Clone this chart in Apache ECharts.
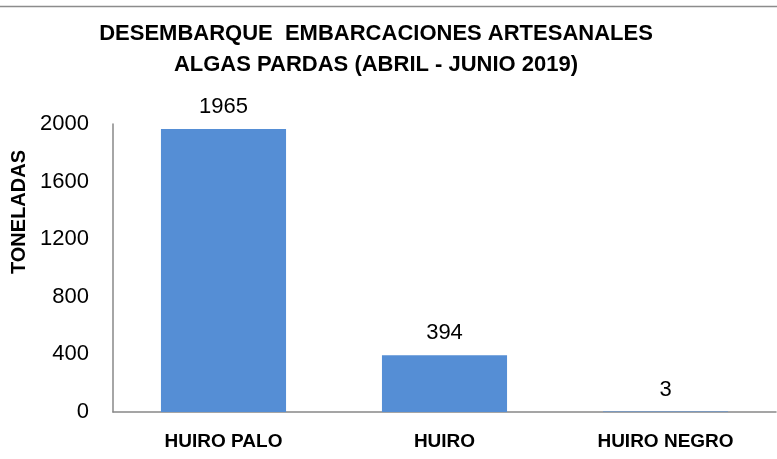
<!DOCTYPE html>
<html>
<head>
<meta charset="UTF-8">
<title>Desembarque algas pardas</title>
<script type="text/javascript" src="https://cdn.jsdelivr.net/npm/echarts@6/dist/echarts.min.js"></script>
<style>
	html, body { margin: 0; padding: 0; background: #fff; }
</style>
</head>
<body>
	<div id="main" style="width: 777px;height:459px;"></div>
</body>
<script type="text/javascript">
	// datos del grafico
	var categorias = ['HUIRO PALO', 'HUIRO', 'HUIRO NEGRO'];
	var toneladas = [1965, 394, 3];
	var titulo = 'DESEMBARQUE  EMBARCACIONES ARTESANALES\nALGAS PARDAS (ABRIL - JUNIO 2019)';
	var nombreEjeY = 'TONELADAS';

	var fuente = '"Liberation Sans", Arial, sans-serif';

	var myChart = echarts.init(document.getElementById('main'));

	var option = {
		backgroundColor : '#fff',
		animation : false,
		title : {
			text : titulo,
			left : 371,
			textAlign : 'center',
			top : 13,
			textStyle : {
				fontFamily : fuente,
				fontWeight : 'bold',
				fontSize : 22,
				lineHeight : 31,
				color : '#000'
			}
		},
		graphic : [{
			type : 'line',
			shape : { x1 : 0, y1 : 6.5, x2 : 777, y2 : 6.5 },
			style : { stroke : '#8c8c8c', lineWidth : 1.5 }
		}],
		grid : {
			left : 113,
			right : 1,
			top : 124,
			bottom : 47,
			containLabel : false,
			outerBoundsMode : 'none'
		},
		xAxis : {
			type : 'category',
			data : categorias,
			axisLine : { lineStyle : { color : '#888', width : 1.5 } },
			axisTick : { show : false },
			axisLabel : {
				margin : 20,
				fontFamily : fuente,
				fontWeight : 'bold',
				fontSize : 19,
				color : '#000'
			}
		},
		yAxis : {
			type : 'value',
			min : 0,
			max : 2000,
			interval : 400,
			name : nombreEjeY,
			nameLocation : 'middle',
			nameGap : 84,
			nameTextStyle : {
				fontFamily : fuente,
				fontWeight : 'bold',
				fontSize : 20,
				color : '#000',
				padding : [0, 0, 0, 112]
			},
			axisLine : { show : true, lineStyle : { color : '#888', width : 1.5 } },
			axisTick : { show : false },
			splitLine : { show : false },
			axisLabel : {
				margin : 24,
				fontFamily : fuente,
				fontSize : 22,
				color : '#000',
				formatter : function (v) { return String(v); }
			}
		},
		series : [{
			type : 'bar',
			data : toneladas,
			barWidth : '56.6%',
			itemStyle : { color : '#558ed5' },
			label : {
				show : true,
				position : 'top',
				distance : 11,
				fontFamily : fuente,
				fontSize : 22,
				color : '#000'
			}
		}]
	};
	myChart.setOption(option);
</script>
</html>
